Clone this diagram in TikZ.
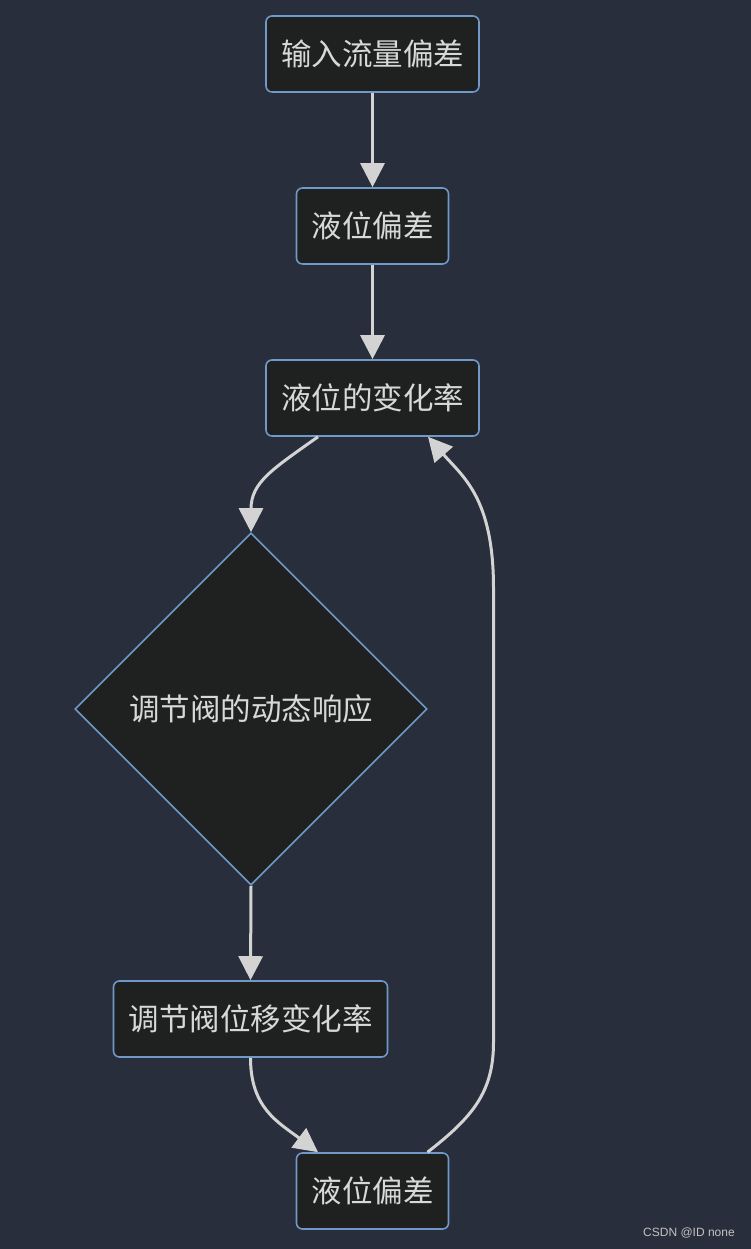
\documentclass[tikz,border=0pt]{standalone}
\usepackage{fontspec}
\newfontfamily\cjk{Noto Sans CJK SC}
\setmainfont{Liberation Sans}
\usetikzlibrary{shapes.geometric,arrows.meta}
\definecolor{bgcol}{RGB}{41,46,60}
\definecolor{boxfill}{RGB}{31,32,32}
\definecolor{boxline}{RGB}{112,152,200}
\definecolor{linkcol}{RGB}{211,211,211}
\definecolor{txtcol}{RGB}{216,216,216}
\begin{document}
\begin{tikzpicture}[x=1pt, y=1pt,
  font=\cjk\fontsize{30.5}{36}\selectfont,
  box/.style={draw=boxline, fill=boxfill, line width=1.6pt, rounded corners=6pt,
    text=txtcol, inner xsep=15pt, inner ysep=0pt, minimum height=76pt},
  choice/.style={diamond, draw=boxline, fill=boxfill, line width=1.6pt, text=txtcol,
    aspect=1, inner sep=0pt, minimum width=352pt, minimum height=352pt},
  link/.style={draw=linkcol, line width=3pt, -{Triangle[length=24pt, width=24pt]}}]
\fill[bgcol] (0,0) rectangle (751,1249);
\useasboundingbox (0,0) rectangle (751,1249);
\node[box] (inflow) at (372.5,1195) {输入流量偏差};
\node[box] (dev1) at (372.5,1023) {液位偏差};
\node[box] (rate) at (372.5,851) {液位的变化率};
\node[choice] (valve) at (251,540) {调节阀的动态响应};
\node[box] (travel) at (250.5,230) {调节阀位移变化率};
\node[box] (dev2) at (372.5,58) {液位偏差};
\draw[link] (inflow.south) -- (dev1.north);
\draw[link] (dev1.south) -- (rate.north);
\draw[link] ([xshift=-54.5pt]rate.south) .. controls +(-45,-32) and +(0,50) .. (valve.north);
\draw[link] (valve.south) -- (travel.north);
\draw[link] (travel.south) .. controls +(0,-50) and +(-40,30) .. ([xshift=-54.5pt]dev2.north);
\draw[link] ([xshift=55pt]dev2.north) .. controls +(45,35) and +(0,-50) .. ++(66,110)
  -- ++(0,454) .. controls +(0,90) and +(35,-40) .. ([xshift=55.5pt]rate.south);
\node[text=linkcol!80!gray, font=\fontsize{12}{14}\selectfont] (mark) at (689,16) {CSDN @ID none};
\end{tikzpicture}
\end{document}
